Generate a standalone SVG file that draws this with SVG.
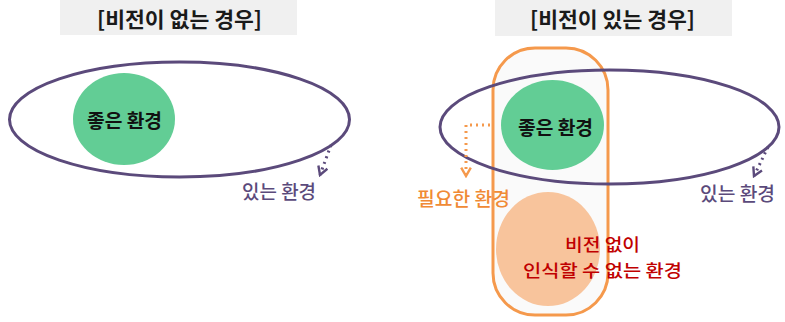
<svg xmlns="http://www.w3.org/2000/svg" width="785" height="322" viewBox="0 0 785 322">
<defs>
<style>
text{font-family:"Noto Sans CJK KR","Noto Sans",sans-serif;text-anchor:middle;dominant-baseline:central}
.title{font-size:21px;font-weight:bold;fill:#1a1a1a}
.tbox{fill:#f0f0f0}
.env{fill:none;stroke:#5b4a7b;stroke-width:3}
.good{fill:#62cd95}
.goodt{font-size:19px;font-weight:bold;fill:#111}
.purp{font-size:19px;font-weight:500;fill:#5b4a7b}
.orng{font-size:19px;font-weight:500;fill:#f08a35}
.red{font-size:17.5px;font-weight:500;fill:#c00000}
.dotp{fill:none;stroke:#5b4a7b;stroke-width:3;stroke-dasharray:2 4}
.doto{fill:none;stroke:#f5994c;stroke-width:3;stroke-dasharray:2 4}
</style>
<marker id="ap" viewBox="0 0 10 10" refX="8" refY="5" markerWidth="4" markerHeight="4" orient="auto" markerUnits="strokeWidth"><path d="M1,1 L8,5 L1,9" fill="none" stroke="#5b4a7b" stroke-width="2"/></marker>
<marker id="ao" viewBox="0 0 10 10" refX="8" refY="5" markerWidth="4" markerHeight="4" orient="auto" markerUnits="strokeWidth"><path d="M1,1 L8,5 L1,9" fill="none" stroke="#f5994c" stroke-width="2"/></marker>
</defs>
<g id="title-left"><rect class="tbox" x="60" y="0" width="237" height="35"/><text class="title" x="179.5" y="18" textLength="165" lengthAdjust="spacingAndGlyphs">[비전이 없는 경우]</text></g>
<g id="title-right"><rect class="tbox" x="495" y="0" width="237" height="36"/><text class="title" x="612.5" y="18" textLength="165" lengthAdjust="spacingAndGlyphs">[비전이 있는 경우]</text></g>
<g id="needed-env"><rect x="493" y="48" width="115" height="267" rx="42" ry="42" fill="#fafafa" stroke="#f5994c" stroke-width="3"/></g>
<g id="good-left"><ellipse class="good" cx="124" cy="119" rx="51" ry="46"/><text class="goodt" x="124.5" y="119" textLength="75" lengthAdjust="spacingAndGlyphs">좋은 환경</text></g>
<g id="good-right"><ellipse class="good" cx="552.5" cy="125" rx="51.5" ry="45"/><text class="goodt" x="555.5" y="126" textLength="75" lengthAdjust="spacingAndGlyphs">좋은 환경</text></g>
<g id="unseen-env"><ellipse cx="548" cy="249" rx="52" ry="57" fill="#f8c49c"/></g>
<g id="exist-left"><ellipse class="env" cx="179.5" cy="119.5" rx="170" ry="57.5"/></g>
<g id="exist-right"><ellipse class="env" cx="609.5" cy="127" rx="169.5" ry="57"/></g>
<g id="connectors">
<path class="dotp" d="M331,145 L320,175" marker-end="url(#ap)"/>
<path class="dotp" d="M768,147 L754,176" marker-end="url(#ap)"/>
<path class="doto" d="M490,125 L466,125 L466,176" marker-end="url(#ao)"/>
</g>
<g id="labels">
<text class="purp" x="279" y="190" textLength="74" lengthAdjust="spacingAndGlyphs">있는 환경</text>
<text class="purp" x="737.5" y="192" textLength="75" lengthAdjust="spacingAndGlyphs">있는 환경</text>
<text class="orng" x="463.5" y="197" textLength="93" lengthAdjust="spacingAndGlyphs">필요한 환경</text>
<text class="red" x="602.5" y="243" textLength="75" lengthAdjust="spacingAndGlyphs">비전 없이</text>
<text class="red" x="602.5" y="269" textLength="159" lengthAdjust="spacingAndGlyphs">인식할 수 없는 환경</text>
</g>
</svg>
